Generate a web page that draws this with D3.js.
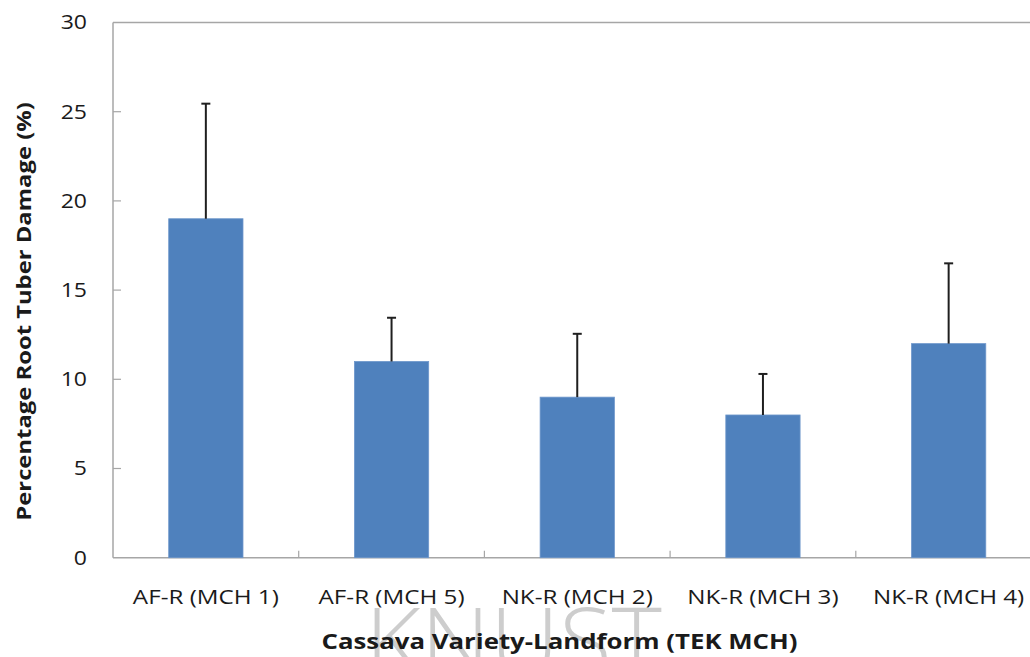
<!DOCTYPE html>
<html>
<head>
<meta charset="utf-8">
<script src="https://cdn.jsdelivr.net/npm/d3@7"></script>
<style>
  html, body { margin: 0; padding: 0; background: #ffffff; }
  svg { display: block; }
</style>
</head>
<body>
<svg id="chart" width="1030" height="657"></svg>
<script>
const categories = ["AF-R (MCH 1)", "AF-R (MCH 5)", "NK-R (MCH 2)", "NK-R (MCH 3)", "NK-R (MCH 4)"];
const damage = [19, 11, 9, 8, 12];
const errorUpper = [6.45, 2.45, 3.55, 2.3, 4.5];
const yTicks = [0, 5, 10, 15, 20, 25, 30];
const yTitle = "Percentage Root Tuber Damage (%)";
const xTitle = "Cassava Variety-Landform (TEK MCH)";
const watermark = "KNUST";

(function () {
const svg = d3.select("#chart");
const font = "'Open Sans', sans-serif";
const pLeft = 113, pRight = 1041.5, pTop = 22.5, pBottom = 557.7;

const x = d3.scaleBand().domain(categories).range([pLeft, pRight]).paddingInner(0.6).paddingOuter(0.3);
const y = d3.scaleLinear().domain([0, 30]).range([pBottom, pTop]);

// widen text glyphs to match the reference's wide face
function stretch(sel, k) {
  sel.each(function () {
    const w = this.getComputedTextLength();
    d3.select(this).attr("textLength", w * k).attr("lengthAdjust", "spacingAndGlyphs");
  });
}

// watermark
svg.append("text")
  .attr("x", 513.5).attr("y", 674)
  .attr("text-anchor", "middle")
  .attr("font-family", font).attr("font-weight", 300)
  .attr("font-size", 92)
  .attr("fill", "#cdcdcd")
  .text(watermark)
  .attr("textLength", 297).attr("lengthAdjust", "spacingAndGlyphs");

// plot frame
svg.append("line").attr("x1", pLeft).attr("x2", 1030).attr("y1", pTop).attr("y2", pTop)
  .attr("stroke", "#a6a6a6").attr("stroke-width", 1.5);
svg.append("line").attr("x1", pLeft).attr("x2", pLeft).attr("y1", pTop).attr("y2", pBottom)
  .attr("stroke", "#a6a6a6").attr("stroke-width", 1.5);
svg.append("line").attr("x1", pLeft).attr("x2", 1030).attr("y1", pBottom).attr("y2", pBottom)
  .attr("stroke", "#a6a6a6").attr("stroke-width", 1.5);

// y ticks (inward) and labels
const yAxis = svg.append("g");
yAxis.selectAll("line").data(yTicks.filter(d => d > 0 && d < 30)).join("line")
  .attr("x1", pLeft).attr("x2", pLeft + 8)
  .attr("y1", d => y(d)).attr("y2", d => y(d))
  .attr("stroke", "#a6a6a6").attr("stroke-width", 1.2);
yAxis.selectAll("text").data(yTicks).join("text")
  .attr("x", 87).attr("y", d => y(d))
  .attr("dy", "0.35em")
  .attr("text-anchor", "end")
  .attr("font-family", font).attr("font-size", 19.5)
  .attr("fill", "#1a1a1a")
  .text(d => d)
  .call(stretch, 1.18);

// x ticks at category boundaries
svg.append("g").selectAll("line").data(categories.slice(1)).join("line")
  .attr("x1", d => x(d) - (x.step() - x.bandwidth()) / 2)
  .attr("x2", d => x(d) - (x.step() - x.bandwidth()) / 2)
  .attr("y1", pBottom).attr("y2", pBottom - 7)
  .attr("stroke", "#a6a6a6").attr("stroke-width", 1.2);

// x labels
svg.append("g").selectAll("text").data(categories).join("text")
  .attr("x", d => x(d) + x.bandwidth() / 2)
  .attr("y", 603.5)
  .attr("text-anchor", "middle")
  .attr("font-family", font).attr("font-size", 19.5)
  .attr("fill", "#1a1a1a")
  .text(d => d)
  .call(stretch, 1.24);

// bars
svg.append("g").selectAll("rect").data(categories).join("rect")
  .attr("x", d => x(d))
  .attr("y", (d, i) => y(damage[i]))
  .attr("width", x.bandwidth())
  .attr("height", (d, i) => y(0) - y(damage[i]))
  .attr("fill", "#4f81bd")
  .attr("stroke", "#6e97cb").attr("stroke-width", 0.8);

// error bars (upper only)
const eb = svg.append("g").attr("stroke", "#1f1f1f").attr("stroke-width", 2);
categories.forEach((c, i) => {
  const cx = x(c) + x.bandwidth() / 2;
  eb.append("line").attr("x1", cx).attr("x2", cx)
    .attr("y1", y(damage[i])).attr("y2", y(damage[i] + errorUpper[i]));
  eb.append("line").attr("x1", cx - 4.5).attr("x2", cx + 4.5)
    .attr("y1", y(damage[i] + errorUpper[i])).attr("y2", y(damage[i] + errorUpper[i]));
});

// axis titles
svg.append("text")
  .attr("transform", "translate(31,311.5) rotate(-90)")
  .attr("text-anchor", "middle")
  .attr("font-family", font).attr("font-weight", 700).attr("font-size", 20)
  .attr("fill", "#1a1a1a")
  .text(yTitle)
  .call(stretch, 1.19);

svg.append("text")
  .attr("x", 559.5).attr("y", 649)
  .attr("text-anchor", "middle")
  .attr("font-family", font).attr("font-weight", 700).attr("font-size", 21.5)
  .attr("fill", "#1a1a1a")
  .text(xTitle)
  .call(stretch, 1.2);
})();
</script>
</body>
</html>
